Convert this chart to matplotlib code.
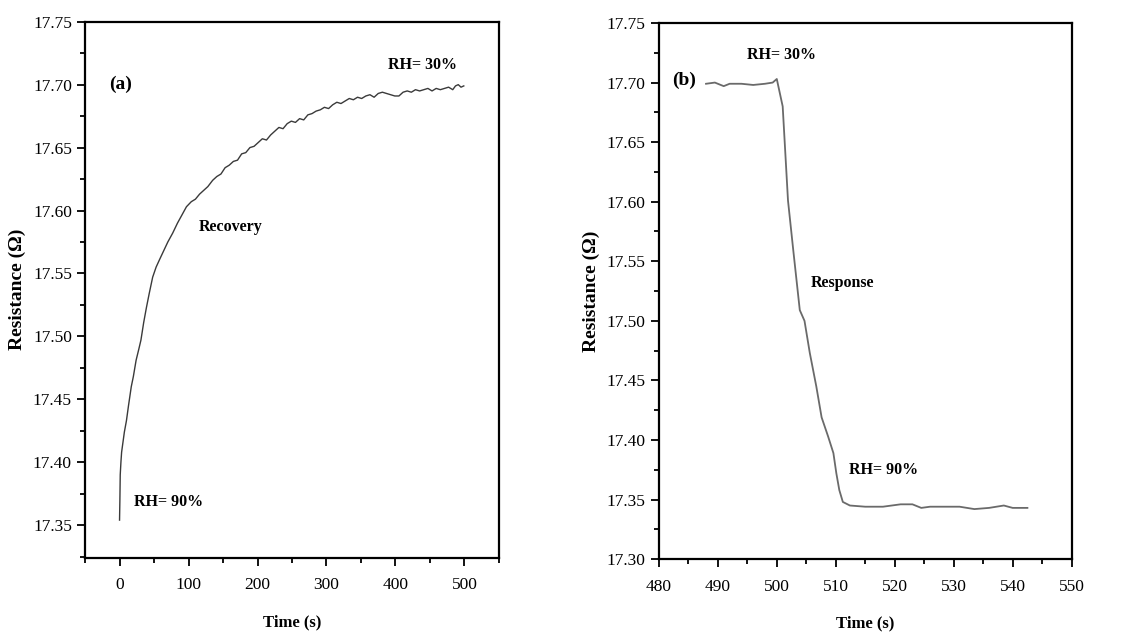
import matplotlib.pyplot as plt
from matplotlib.ticker import MultipleLocator, FormatStrFormatter

# (a) recovery: RH 90% -> 30%
t_rec = [0, 0.5, 1, 2, 3, 5, 7, 10, 13, 17, 20, 24, 28, 31, 35, 39, 43, 48, 53, 58,
         64, 70, 77, 84, 90, 97, 104, 110, 116, 122, 128, 135, 141, 147, 153, 159,
         165, 171, 177, 183, 189, 195, 201, 207, 213, 219, 225, 231, 237, 243, 249,
         255, 261, 267, 273, 279, 285, 291, 297, 303, 309, 315, 321, 327, 333, 339,
         345, 351, 357, 363, 369, 375, 381, 387, 393, 399, 405, 411, 417, 423, 429,
         435, 441, 447, 453, 459, 465, 471, 477, 483, 487, 491, 495, 499]
r_rec = [17.354, 17.370, 17.390, 17.400, 17.408, 17.416, 17.424, 17.433, 17.445,
         17.460, 17.468, 17.481, 17.490, 17.497, 17.511, 17.523, 17.534, 17.547,
         17.555, 17.561, 17.568, 17.575, 17.582, 17.590, 17.596, 17.603, 17.607,
         17.609, 17.613, 17.616, 17.619, 17.624, 17.627, 17.629, 17.634, 17.636,
         17.639, 17.640, 17.645, 17.646, 17.650, 17.651, 17.654, 17.657, 17.656,
         17.660, 17.663, 17.666, 17.665, 17.669, 17.671, 17.670, 17.673, 17.672,
         17.676, 17.677, 17.679, 17.680, 17.682, 17.681, 17.684, 17.686, 17.685,
         17.687, 17.689, 17.688, 17.690, 17.689, 17.691, 17.692, 17.690, 17.693,
         17.694, 17.693, 17.692, 17.691, 17.691, 17.694, 17.695, 17.694, 17.696,
         17.695, 17.696, 17.697, 17.695, 17.697, 17.696, 17.697, 17.698, 17.696,
         17.699, 17.700, 17.698, 17.699]

# (b) response: RH 30% -> 90%
t_resp = [488, 489.5, 491, 492, 494, 496, 498, 499.3, 500, 501, 501.9, 502.8, 503.9,
          504.7, 505.6, 506.7, 507.6, 508.7, 509.6, 510.1, 510.6, 511.2, 512.4, 515,
          518, 521, 523, 524.5, 526, 529, 531, 533.5, 536, 538.5, 540, 542.5]
r_resp = [17.699, 17.700, 17.697, 17.699, 17.699, 17.698, 17.699, 17.700, 17.703,
          17.680, 17.601, 17.559, 17.509, 17.500, 17.473, 17.445, 17.419, 17.403,
          17.389, 17.372, 17.358, 17.348, 17.345, 17.344, 17.344, 17.346, 17.346,
          17.343, 17.344, 17.344, 17.344, 17.342, 17.343, 17.345, 17.343, 17.343]

plt.rcParams['font.family'] = ['Liberation Serif', 'DejaVu Serif']

fig = plt.figure(figsize=(11.34, 6.39), dpi=100)
ax1 = fig.add_axes([0.075, 0.127, 0.365, 0.839])
ax2 = fig.add_axes([0.581, 0.125, 0.364, 0.839])


def style(ax):
    for s in ax.spines.values():
        s.set_linewidth(1.6)
    ax.tick_params(which='both', direction='out', top=False, right=False,
                   width=1.3, labelsize=12.5)
    ax.tick_params(which='major', length=6)
    ax.tick_params(which='minor', length=3.5)
    ax.tick_params(axis='x', pad=8)
    ax.set_xlabel('Time (s)', fontsize=12, fontweight='bold', labelpad=15)
    ax.set_ylabel('Resistance (\u03a9)', fontsize=14, fontweight='bold', labelpad=5)
    ax.yaxis.set_major_formatter(FormatStrFormatter('%.2f'))


ax1.plot(t_rec, r_rec, color='#3a3a3a', lw=1.0)
ax1.set_xlim(-50, 550)
ax1.set_ylim(17.324, 17.75)
ax1.xaxis.set_major_locator(MultipleLocator(100))
ax1.xaxis.set_minor_locator(MultipleLocator(50))
ax1.yaxis.set_major_locator(MultipleLocator(0.05))
ax1.yaxis.set_minor_locator(MultipleLocator(0.025))
ax1.set_xticks([0, 100, 200, 300, 400, 500])
style(ax1)
ax1.text(-15, 17.700, '(a)', fontsize=14, fontweight='bold', va='center')
ax1.text(389, 17.716, 'RH= 30%', fontsize=11.5, fontweight='bold', va='center')
ax1.text(115, 17.587, 'Recovery', fontsize=11.5, fontweight='bold', va='center')
ax1.text(21, 17.368, 'RH= 90%', fontsize=11.5, fontweight='bold', va='center')

ax2.plot(t_resp, r_resp, color='#6a6a6a', lw=1.3)
ax2.set_xlim(480, 550)
ax2.set_ylim(17.30, 17.75)
ax2.xaxis.set_major_locator(MultipleLocator(10))
ax2.xaxis.set_minor_locator(MultipleLocator(5))
ax2.yaxis.set_major_locator(MultipleLocator(0.05))
ax2.yaxis.set_minor_locator(MultipleLocator(0.025))
style(ax2)
ax2.text(482.2, 17.702, '(b)', fontsize=14, fontweight='bold', va='center')
ax2.text(494.9, 17.723, 'RH= 30%', fontsize=11.5, fontweight='bold', va='center')
ax2.text(505.8, 17.532, 'Response', fontsize=11.5, fontweight='bold', va='center')
ax2.text(512.2, 17.375, 'RH= 90%', fontsize=11.5, fontweight='bold', va='center')

plt.savefig('out.png', dpi=100)
